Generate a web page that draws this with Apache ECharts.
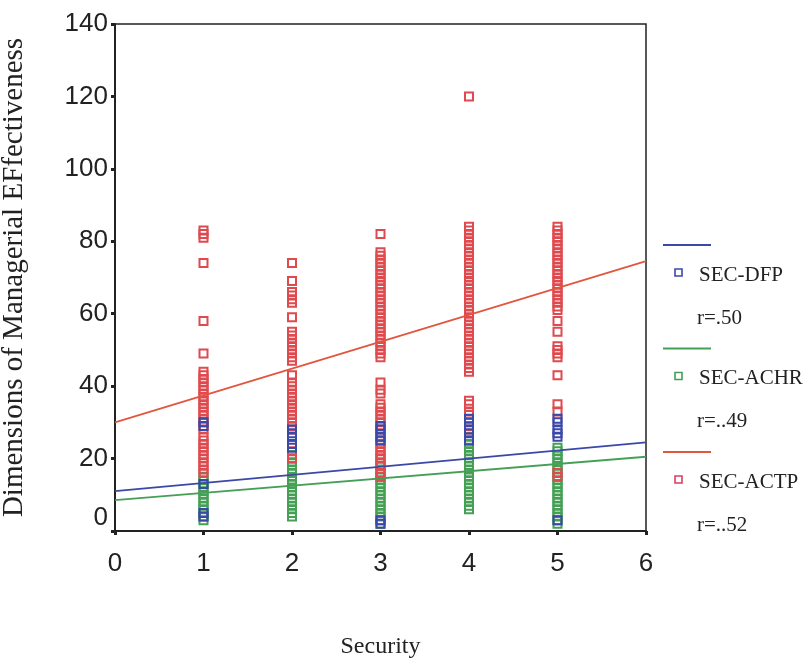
<!DOCTYPE html>
<html>
<head>
<meta charset="utf-8">
<script src="https://cdn.jsdelivr.net/npm/echarts@6/dist/echarts.min.js"></script>
<style>
    html, body {margin: 0; padding: 0; background: #fff;}
    #main {width: 810px; height: 659px;}
</style>
</head>
<body>
<div id="main"></div>
<script>
// x positions of the columns (Security score)
var secScores = [1, 2, 3, 4, 5];

// SEC-ACTP values, one list per column
var actpVals = [
    [83, 82, 81, 74, 58, 49, 44, 43, 42, 41, 40, 39, 38, 37, 36, 35, 34, 33, 32, 31, 30, 29, 28, 26, 25, 24, 23, 22, 21, 20, 19, 18, 17, 16],
    [74, 69, 66, 65, 64, 63, 59, 55, 54, 53, 52, 51, 50, 49, 48, 47, 43, 41, 40, 39, 38, 37, 36, 35, 34, 33, 32, 31, 30, 29, 28, 26, 24, 22, 20],
    [82, 77, 76, 75, 74, 73, 72, 71, 70, 69, 68, 67, 66, 65, 64, 63, 62, 61, 60, 59, 58, 57, 56, 55, 54, 53, 52, 51, 50, 49, 48, 41, 39, 38, 35, 34, 33, 32, 31, 30, 29, 28, 27, 26, 25, 24, 23, 22, 21, 20, 18, 16, 15],
    [120, 84, 83, 82, 81, 80, 79, 78, 77, 76, 75, 74, 73, 72, 71, 70, 69, 68, 67, 66, 65, 64, 63, 62, 61, 60, 59, 58, 57, 56, 55, 54, 53, 52, 51, 50, 49, 48, 47, 46, 45, 44, 36, 35, 33, 32, 29, 28],
    [84, 83, 82, 81, 80, 79, 78, 77, 76, 75, 74, 73, 72, 71, 70, 69, 68, 67, 66, 65, 64, 63, 62, 61, 58, 55, 51, 50, 49, 48, 43, 35, 33, 16, 15]
];
// SEC-ACHR values
var achrVals = [
    [15, 14, 13, 12, 11, 10, 9, 8, 7, 6, 5, 4, 3],
    [21, 20, 19, 18, 17, 16, 15, 14, 13, 12, 11, 10, 9, 8, 7, 6, 5, 4],
    [20, 19, 18, 17, 16, 15, 14, 13, 12, 11, 10, 9, 8, 7, 6, 5, 4, 3, 2],
    [26, 25, 24, 23, 22, 21, 20, 19, 18, 17, 16, 15, 14, 13, 12, 11, 10, 9, 8, 7, 6],
    [23, 22, 21, 20, 19, 18, 17, 16, 15, 14, 13, 12, 11, 10, 9, 8, 7, 6, 5, 4, 3, 2]
];
// SEC-DFP values
var dfpVals = [
    [30, 29, 13, 5, 4],
    [28, 27, 26, 24, 23],
    [29, 28, 26, 25, 3, 2],
    [31, 30, 28, 27, 25],
    [31, 30, 28, 27, 26, 3]
];

// fit lines: value at x=0 and at x=6
var fitX = [0, 6];
var dfpFit = [11, 24.5];
var achrFit = [8.5, 20.5];
var actpFit = [30, 74.5];

var legendNames = ['SEC-DFP', 'SEC-ACHR', 'SEC-ACTP'];
var legendR = ['r=.50', 'r=..49', 'r=..52'];

var xTicks = [0, 1, 2, 3, 4, 5, 6];
var yTicks = [0, 20, 40, 60, 80, 100, 120, 140];

var blue = '#3a48a8', green = '#45a056', red = '#e2563f', pink = '#de4a4e';

function toPoints(cols) {
    var pts = [];
    for (var i = 0; i < cols.length; i++) {
        for (var j = 0; j < cols[i].length; j++) {
            pts.push([secScores[i], cols[i][j]]);
        }
    }
    return pts;
}

function fitPoints(ends) {
    return [[fitX[0], ends[0]], [fitX[1], ends[1]]];
}

function scatterSeries(name, cols, color) {
    return {
        name: name,
        type: 'scatter',
        symbol: 'rect',
        symbolSize: 8,
        itemStyle: {color: 'rgba(0,0,0,0)', borderColor: color, borderWidth: 2, opacity: 1},
        emphasis: {disabled: true},
        data: toPoints(cols)
    };
}

function lineSeries(ends, color) {
    return {
        type: 'line',
        symbol: 'none',
        silent: true,
        lineStyle: {color: color, width: 1.8},
        data: fitPoints(ends)
    };
}

// legend drawn by hand (line, square + name, r value)
var legendColors = [blue, green, red];
var markColors = [blue, green, '#d8405e'];
var graphics = [];
for (var k = 0; k < legendNames.length; k++) {
    var y0 = 245 + k * 103.5;
    graphics.push({
        type: 'line', shape: {x1: 663, y1: y0, x2: 711, y2: y0},
        style: {stroke: legendColors[k], lineWidth: 1.8}
    });
    graphics.push({
        type: 'rect', shape: {x: 675, y: y0 + 24, width: 7, height: 7},
        style: {fill: 'none', stroke: markColors[k], lineWidth: 1.6}
    });
    graphics.push({
        type: 'text', x: 699, y: y0 + 30,
        style: {text: legendNames[k], fill: '#222', font: '21px "Liberation Serif"', verticalAlign: 'middle'}
    });
    graphics.push({
        type: 'text', x: 697, y: y0 + 73,
        style: {text: legendR[k], fill: '#222', font: '21px "Liberation Serif"', verticalAlign: 'middle'}
    });
}

var myChart = echarts.init(document.getElementById('main'));

var option = {
    backgroundColor: '#fff',
    animation: false,
    grid: {
        left: 115,
        right: 164,
        top: 24,
        bottom: 128,
        show: true,
        borderColor: '#222',
        borderWidth: 1.5,
        containLabel: false,
        outerBoundsMode: 'none'
    },
    xAxis: {
        type: 'value',
        min: xTicks[0],
        max: xTicks[xTicks.length - 1],
        interval: 1,
        name: 'Security',
        nameLocation: 'middle',
        nameGap: 104,
        nameTextStyle: {fontFamily: 'Liberation Serif', fontSize: 24, color: '#222'},
        axisLine: {onZero: false, lineStyle: {color: '#222', width: 2}},
        axisTick: {length: 4, lineStyle: {color: '#222', width: 3}},
        axisLabel: {fontFamily: 'Liberation Sans', fontSize: 26, color: '#222', margin: 20},
        splitLine: {show: false}
    },
    yAxis: {
        type: 'value',
        min: yTicks[0],
        max: yTicks[yTicks.length - 1],
        interval: 20,
        name: 'Dimensions of Managerial EFfectiveness',
        nameLocation: 'middle',
        nameGap: 86,
        nameTextStyle: {fontFamily: 'Liberation Serif', fontSize: 29, color: '#222'},
        axisLine: {onZero: false, lineStyle: {color: '#222', width: 2}},
        axisTick: {length: 4, lineStyle: {color: '#222', width: 3}},
        axisLabel: {
            fontFamily: 'Liberation Sans', fontSize: 26, color: '#222', margin: 7,
            formatter: function (v) {
                return v === 0 ? '{z|0}' : String(v);
            },
            rich: {
                z: {fontFamily: 'Liberation Sans', fontSize: 26, color: '#222', padding: [0, 0, 26, 0]}
            }
        },
        splitLine: {show: false}
    },
    series: [
        scatterSeries('SEC-ACHR', achrVals, green),
        scatterSeries('SEC-ACTP', actpVals, pink),
        scatterSeries('SEC-DFP', dfpVals, blue),
        lineSeries(dfpFit, blue),
        lineSeries(achrFit, green),
        lineSeries(actpFit, red)
    ],
    graphic: graphics
};
myChart.setOption(option);
</script>
</body>
</html>
